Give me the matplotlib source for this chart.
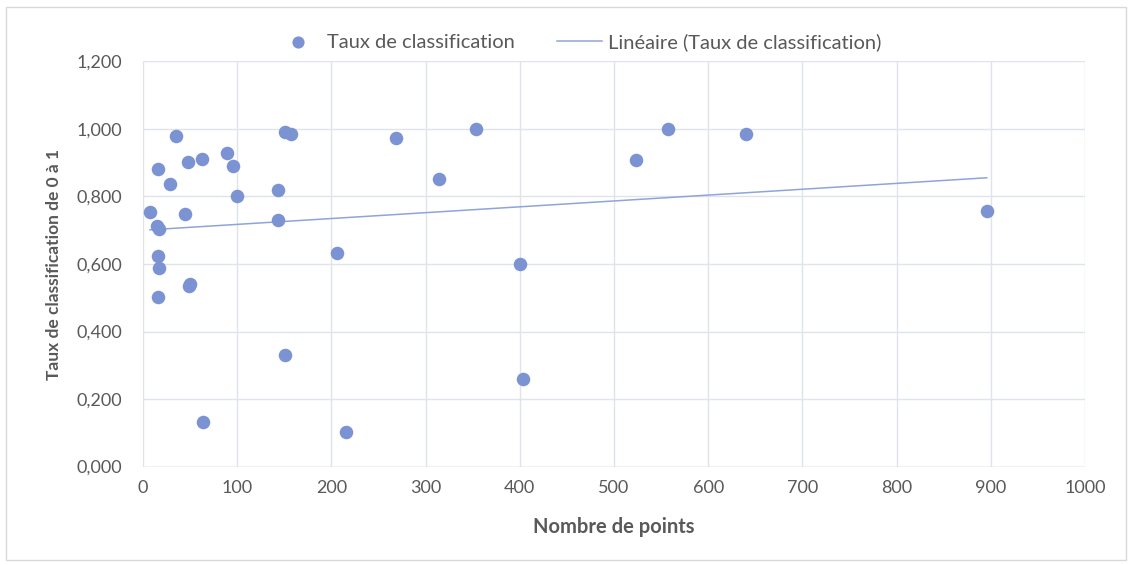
import numpy as np
import matplotlib.pyplot as plt
from matplotlib.patches import Rectangle
from matplotlib.ticker import FuncFormatter

# points (x = nombre de points, y = taux)
nb_points = [35, 151, 157, 89.5, 62.6, 48, 95.9, 15.6, 28.7, 143, 99.5, 7.4,
             45, 143, 15, 17, 205.6, 15.6, 17.3, 50.2, 48.5, 15.6,
             150.7, 64, 215.5,
             268.6, 353, 313.9, 400.2, 403.7,
             523.7, 557.7, 639.8, 895.6]
taux = [0.979, 0.990, 0.984, 0.930, 0.912, 0.902, 0.890, 0.880, 0.836, 0.819, 0.802, 0.754,
        0.748, 0.731, 0.712, 0.703, 0.634, 0.624, 0.589, 0.541, 0.535, 0.501,
        0.330, 0.133, 0.101,
        0.972, 1.000, 0.852, 0.600, 0.259,
        0.907, 1.000, 0.984, 0.758]

x_ticks = list(range(0, 1001, 100))
y_ticks = [0, 0.2, 0.4, 0.6, 0.8, 1.0, 1.2]

grey = '#595959'
dot_col = '#7b93d3'
trend_col = '#8fa4d9'

plt.rcParams['font.family'] = ['Lato', 'DejaVu Sans']

fig = plt.figure(figsize=(11.32, 5.65), dpi=100)
ax = fig.add_axes([0.1263, 0.1743, 0.8322, 0.7169])

ax.scatter(nb_points, taux, s=95, color=dot_col, zorder=3, linewidths=0,
           label='Taux de classification')

# linear trendline (Excel style)
xs = np.array(nb_points)
a, b = np.polyfit(xs, np.array(taux), 1)
xl = np.array([xs.min(), xs.max()])
ax.plot(xl, a * xl + b, color=trend_col, lw=1.1, zorder=2,
        label='Linéaire (Taux de classification)')

ax.set_xlim(0, 1000)
ax.set_ylim(0, 1.2)
ax.set_xticks(x_ticks)
ax.set_yticks(y_ticks)
ax.yaxis.set_major_formatter(FuncFormatter(lambda v, p: f'{v:.3f}'.replace('.', ',')))
ax.tick_params(length=0, labelsize=13, colors=grey)
ax.tick_params(axis='y', pad=15)
ax.tick_params(axis='x', pad=10)
ax.grid(True, color='#dfe3ea', lw=1)
ax.set_axisbelow(True)
for s in ax.spines.values():
    s.set_visible(False)
ax.axhline(0, color='#d0d4dc', lw=1, zorder=1)

ax.set_xlabel('Nombre de points', fontsize=14.5, fontweight='bold', color=grey, labelpad=15)
ax.set_ylabel('Taux de classification de 0 à 1', fontsize=12.5, fontweight='bold', color=grey, labelpad=10)

fig.legend(loc='center', bbox_to_anchor=(0.511, 0.926), ncol=2, frameon=False,
           fontsize=14.5, labelcolor=grey, handlelength=2.25, columnspacing=2.1,
           handletextpad=0.3, markerscale=0.9)

fig.patches.append(Rectangle((0.005, 0.008), 0.99, 0.98, transform=fig.transFigure,
                             fill=False, edgecolor='#d9d9d9', lw=1))

fig.savefig('out.png', dpi=100)
